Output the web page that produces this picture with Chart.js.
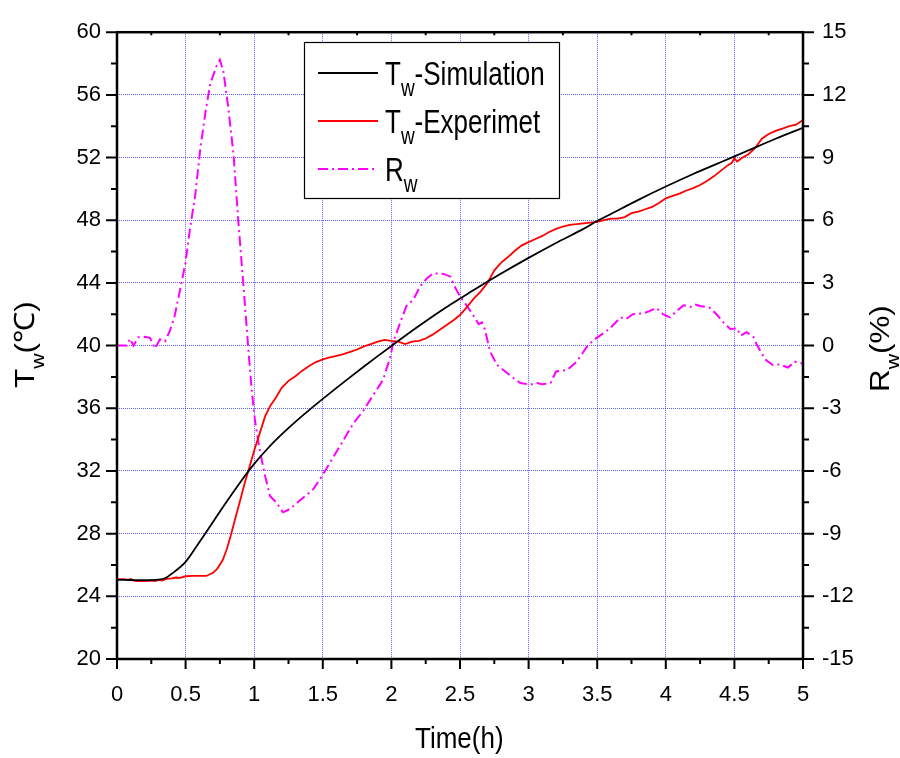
<!DOCTYPE html>
<html>
<head>
<meta charset="utf-8">
<script src="https://cdn.jsdelivr.net/npm/chart.js@4.4.1/dist/chart.umd.min.js"></script>
<style>
  html, body { margin: 0; padding: 0; background: #fff; }
  #wrap { width: 900px; height: 758px; }
</style>
</head>
<body>
<div id="wrap"><canvas id="c" width="900" height="758"></canvas></div>
<script>
// ---- Wall temperature, simulation (time in h, temperature in °C) ----
const simTime = [0, 0.1, 0.2, 0.3, 0.35, 0.4, 0.5, 0.6, 0.7, 0.8, 0.9, 1.0, 1.1, 1.2, 1.3, 1.4, 1.5, 1.6, 1.7, 1.8, 1.9, 2.0, 2.2, 2.4, 2.5, 2.6, 2.8, 3.0, 3.2, 3.4, 3.5, 3.6, 3.8, 4.0, 4.2, 4.4, 4.6, 4.8, 5.0];
const simTemp = [25.05, 25.04, 25.03, 25.06, 25.15, 25.45, 26.2, 27.45, 28.75, 30.05, 31.3, 32.45, 33.45, 34.33, 35.13, 35.88, 36.6, 37.3, 37.99, 38.67, 39.33, 39.98, 41.25, 42.45, 43.0, 43.55, 44.6, 45.6, 46.55, 47.45, 47.95, 48.4, 49.3, 50.15, 50.95, 51.7, 52.45, 53.2, 53.9];

// ---- Wall temperature, experiment ----
const expTime = [0, 0.05, 0.08, 0.1, 0.12, 0.15, 0.2, 0.25, 0.28, 0.3, 0.33, 0.36, 0.4, 0.43, 0.46, 0.5, 0.55, 0.6, 0.65, 0.7, 0.73, 0.77, 0.8, 0.83, 0.86, 0.9, 0.93, 0.96, 1.0, 1.04, 1.08, 1.12, 1.16, 1.2, 1.25, 1.3, 1.35, 1.4, 1.45, 1.5, 1.55, 1.6, 1.65, 1.7, 1.75, 1.8, 1.85, 1.9, 1.95, 2.0, 2.05, 2.1, 2.15, 2.2, 2.25, 2.3, 2.35, 2.4, 2.45, 2.5, 2.55, 2.6, 2.65, 2.7, 2.75, 2.8, 2.85, 2.9, 2.95, 3.0, 3.05, 3.1, 3.15, 3.2, 3.25, 3.3, 3.35, 3.4, 3.45, 3.5, 3.55, 3.6, 3.65, 3.7, 3.75, 3.8, 3.85, 3.9, 3.95, 4.0, 4.05, 4.1, 4.15, 4.2, 4.25, 4.3, 4.35, 4.4, 4.45, 4.48, 4.5, 4.52, 4.56, 4.6, 4.65, 4.7, 4.75, 4.8, 4.85, 4.9, 4.95, 5.0];
const expTemp = [25.1, 25.1, 25.05, 25.1, 25.0, 24.97, 24.97, 25.0, 24.98, 25.05, 25.0, 25.12, 25.15, 25.2, 25.18, 25.28, 25.3, 25.3, 25.3, 25.5, 25.75, 26.3, 27.0, 27.9, 28.9, 30.2, 31.2, 32.1, 33.3, 34.4, 35.5, 36.2, 36.7, 37.3, 37.75, 38.05, 38.4, 38.7, 38.95, 39.12, 39.25, 39.35, 39.45, 39.6, 39.75, 39.95, 40.1, 40.25, 40.37, 40.3, 40.25, 40.1, 40.25, 40.3, 40.45, 40.7, 41.0, 41.3, 41.6, 41.95, 42.45, 43.0, 43.45, 44.0, 44.8, 45.3, 45.65, 46.05, 46.4, 46.6, 46.8, 47.0, 47.25, 47.45, 47.6, 47.7, 47.75, 47.8, 47.85, 47.9, 48.0, 48.1, 48.1, 48.2, 48.45, 48.55, 48.7, 48.85, 49.1, 49.4, 49.55, 49.7, 49.9, 50.05, 50.25, 50.5, 50.8, 51.15, 51.5, 51.65, 51.95, 51.75, 52.0, 52.2, 52.6, 53.2, 53.5, 53.7, 53.85, 54.0, 54.1, 54.4];

// ---- Relative deviation R_w (%) ----
const rwTime = [0, 0.07, 0.095, 0.12, 0.156, 0.2, 0.24, 0.277, 0.313, 0.35, 0.386, 0.42, 0.46, 0.498, 0.53, 0.57, 0.607, 0.644, 0.68, 0.727, 0.75, 0.776, 0.81, 0.85, 0.884, 0.92, 0.957, 0.98, 1.006, 1.04, 1.08, 1.115, 1.16, 1.21, 1.26, 1.33, 1.43, 1.5, 1.58, 1.65, 1.72, 1.795, 1.87, 1.917, 1.94, 1.966, 1.99, 2.014, 2.06, 2.11, 2.16, 2.21, 2.26, 2.305, 2.38, 2.43, 2.46, 2.5, 2.55, 2.6, 2.635, 2.66, 2.68, 2.72, 2.77, 2.83, 2.89, 2.94, 3.01, 3.06, 3.1, 3.16, 3.2, 3.28, 3.35, 3.42, 3.47, 3.52, 3.59, 3.67, 3.71, 3.76, 3.84, 3.885, 3.93, 3.98, 4.03, 4.08, 4.13, 4.18, 4.21, 4.25, 4.32, 4.37, 4.42, 4.47, 4.52, 4.545, 4.59, 4.64, 4.66, 4.7, 4.73, 4.78, 4.83, 4.89, 4.94, 4.98, 5.0];
const rwVal = [0, 0, 0.33, 0.0, 0.4, 0.42, 0.37, -0.14, 0.3, 0.2, 0.72, 1.42, 2.68, 3.93, 5.5, 7.2, 9.4, 11.14, 12.55, 13.4, 13.68, 13.1, 11.45, 9.1, 5.97, 3.0, -0.14, -2.0, -3.6, -5.0, -6.25, -7.2, -7.5, -7.98, -7.82, -7.43, -6.88, -6.18, -5.3, -4.53, -3.75, -3.12, -2.34, -1.87, -1.63, -1.08, -0.61, 0.17, 1.03, 1.9, 2.2, 2.84, 3.23, 3.46, 3.43, 3.3, 2.84, 2.36, 1.9, 1.42, 1.03, 1.11, 0.8, -0.3, -0.93, -1.24, -1.55, -1.79, -1.87, -1.79, -1.85, -1.79, -1.24, -1.17, -0.77, -0.1, 0.25, 0.48, 0.8, 1.35, 1.27, 1.5, 1.55, 1.66, 1.81, 1.5, 1.35, 1.66, 1.93, 1.85, 1.97, 1.9, 1.81, 1.5, 1.11, 0.8, 0.83, 0.48, 0.64, 0.4, 0.09, -0.38, -0.69, -0.93, -0.9, -1.05, -0.77, -0.85, -0.85];

// ---- Axis ticks ----
const xTicks = [0, 0.5, 1, 1.5, 2, 2.5, 3, 3.5, 4, 4.5, 5];
const tempTicks = [20, 24, 28, 32, 36, 40, 44, 48, 52, 56, 60];
const rwTicks = [-15, -12, -9, -6, -3, 0, 3, 6, 9, 12, 15];

const FONT = "'Liberation Sans', Arial, sans-serif";
const GRID = 'rgba(40, 40, 255, 0.75)';

const pts = (xs, ys) => xs.map((x, i) => ({ x: x, y: ys[i] }));
const setTicks = arr => scale => { scale.ticks = arr.map(v => ({ value: v })); };

// Text with subscripts; sx/sy stretch the glyphs
function richText(ctx, parts, x, y, size, subSize, subDrop, sx, sy) {
  ctx.save();
  ctx.translate(x, y);
  ctx.scale(sx, sy);
  ctx.textBaseline = 'alphabetic';
  ctx.textAlign = 'left';
  let cx = 0;
  for (const [txt, kind] of parts) {
    const sub = kind === 's';
    ctx.font = (sub ? subSize : size) + 'px ' + FONT;
    ctx.fillText(txt, cx, sub ? subDrop / sy : 0);
    cx += ctx.measureText(txt).width;
  }
  ctx.restore();
}

const decorations = {
  id: 'decorations',
  afterDatasetsDraw(chart) {
    const ctx = chart.ctx;
    // legend box
    const bx = 304, by = 42, bw = 255, bh = 156;
    ctx.save();
    ctx.fillStyle = '#fff';
    ctx.fillRect(bx, by, bw, bh);
    ctx.strokeStyle = '#000';
    ctx.lineWidth = 1.2;
    ctx.strokeRect(bx + 0.5, by + 0.5, bw, bh);
    const rows = [
      { y: 73, parts: [['T', 'n'], ['w', 's'], ['-Simulation', 'n']] },
      { y: 121, parts: [['T', 'n'], ['w', 's'], ['-Experimet', 'n']] },
      { y: 169, parts: [['R', 'n'], ['w', 's']] }
    ];
    rows.forEach((r, i) => {
      const ds = chart.data.datasets[i];
      ctx.strokeStyle = ds.borderColor;
      ctx.lineWidth = ds.borderWidth;
      ctx.setLineDash(ds.borderDash || []);
      ctx.beginPath();
      ctx.moveTo(318, r.y);
      ctx.lineTo(378, r.y);
      ctx.stroke();
      ctx.setLineDash([]);
      ctx.fillStyle = '#000';
      richText(ctx, r.parts, 385, r.y + 11.5, 26, 19, 11, 1, 1.25);
    });
    ctx.restore();
  },
  afterDraw(chart) {
    const ctx = chart.ctx;
    const a = chart.chartArea;
    const xs = chart.scales.x, yl = chart.scales.y, yr = chart.scales.y2;
    ctx.save();
    ctx.strokeStyle = '#000';
    ctx.lineCap = 'butt';
    // tick marks
    ctx.lineWidth = 2;
    ctx.beginPath();
    for (let i = 0; i < xTicks.length; i++) {
      const px = xs.getPixelForValue(xTicks[i]);
      ctx.moveTo(px, a.bottom); ctx.lineTo(px, a.bottom + 10);
      if (i < xTicks.length - 1) {
        const mx = xs.getPixelForValue((xTicks[i] + xTicks[i + 1]) / 2);
        ctx.moveTo(mx, a.bottom); ctx.lineTo(mx, a.bottom + 5);
        ctx.moveTo(mx, a.top); ctx.lineTo(mx, a.top + 3);
      }
    }
    for (let i = 0; i < tempTicks.length; i++) {
      const py = yl.getPixelForValue(tempTicks[i]);
      ctx.moveTo(a.left, py); ctx.lineTo(a.left - 11, py);
      if (i < tempTicks.length - 1) {
        const my = yl.getPixelForValue((tempTicks[i] + tempTicks[i + 1]) / 2);
        ctx.moveTo(a.left, my); ctx.lineTo(a.left - 6, my);
      }
    }
    for (let i = 0; i < rwTicks.length; i++) {
      const py = yr.getPixelForValue(rwTicks[i]);
      ctx.moveTo(a.right, py); ctx.lineTo(a.right + 11, py);
      if (i < rwTicks.length - 1) {
        const my = yr.getPixelForValue((rwTicks[i] + rwTicks[i + 1]) / 2);
        ctx.moveTo(a.right, my); ctx.lineTo(a.right + 6, my);
      }
    }
    ctx.stroke();
    // frame
    ctx.lineWidth = 2.5;
    ctx.strokeRect(a.left, a.top, a.right - a.left, a.bottom - a.top);
    // axis titles
    ctx.fillStyle = '#000';
    richText(ctx, [['Time(h)', 'n']], 415, 748, 26, 19, 0, 1, 1.15);
    ctx.save();
    ctx.translate(34, 388);
    ctx.rotate(-Math.PI / 2);
    richText(ctx, [['T', 'n'], ['w', 's'], ['(℃)', 'n']], 0, 0, 28, 19, 10, 1.12, 1);
    ctx.restore();
    ctx.save();
    ctx.translate(889, 392);
    ctx.rotate(-Math.PI / 2);
    richText(ctx, [['R', 'n'], ['w', 's'], ['(%)', 'n']], 0, 0, 28, 19, 10, 1.12, 1);
    ctx.restore();
    ctx.restore();
  }
};

new Chart(document.getElementById('c'), {
  type: 'line',
  data: {
    datasets: [
      { label: 'Tw-Simulation', data: pts(simTime, simTemp), yAxisID: 'y',
        borderColor: '#000000', borderWidth: 1.8, pointRadius: 0, cubicInterpolationMode: 'monotone' },
      { label: 'Tw-Experimet', data: pts(expTime, expTemp), yAxisID: 'y',
        borderColor: '#ff0000', borderWidth: 1.8, pointRadius: 0, tension: 0 },
      { label: 'Rw', data: pts(rwTime, rwVal), yAxisID: 'y2',
        borderColor: '#ff00ff', borderWidth: 2, pointRadius: 0, tension: 0, borderDash: [10, 4, 2, 4] }
    ]
  },
  options: {
    responsive: false,
    animation: false,
    devicePixelRatio: 1,
    layout: { padding: { top: 21, left: 0, right: 0, bottom: 0 } },
    plugins: { legend: { display: false }, tooltip: { enabled: false } },
    scales: {
      x: {
        type: 'linear', min: 0, max: 5,
        afterBuildTicks: setTicks(xTicks),
        afterFit: s => { s.height = 99; },
        ticks: { color: '#000', font: { family: FONT, size: 22 }, padding: 23, maxRotation: 0, autoSkip: false,
                 callback: v => String(v) },
        grid: { drawTicks: false, lineWidth: 1,
                color: c => (c.tick && (c.tick.value === 0 || c.tick.value === 5)) ? 'rgba(0,0,0,0)' : GRID },
        border: { display: false, dash: [1, 1] }
      },
      y: {
        type: 'linear', position: 'left', min: 20, max: 60,
        afterBuildTicks: setTicks(tempTicks),
        afterFit: s => { s.width = 117; },
        ticks: { color: '#000', font: { family: FONT, size: 22 }, padding: 16 },
        grid: { drawTicks: false, lineWidth: 1,
                color: c => (c.tick && (c.tick.value === 20 || c.tick.value === 60)) ? 'rgba(0,0,0,0)' : GRID },
        border: { display: false, dash: [1, 1] }
      },
      y2: {
        type: 'linear', position: 'right', min: -15, max: 15,
        afterBuildTicks: setTicks(rwTicks),
        afterFit: s => { s.width = 97; },
        ticks: { color: '#000', font: { family: FONT, size: 22 }, padding: 19 },
        grid: { drawTicks: false, drawOnChartArea: false },
        border: { display: false }
      }
    }
  },
  plugins: [decorations]
});
</script>
</body>
</html>
